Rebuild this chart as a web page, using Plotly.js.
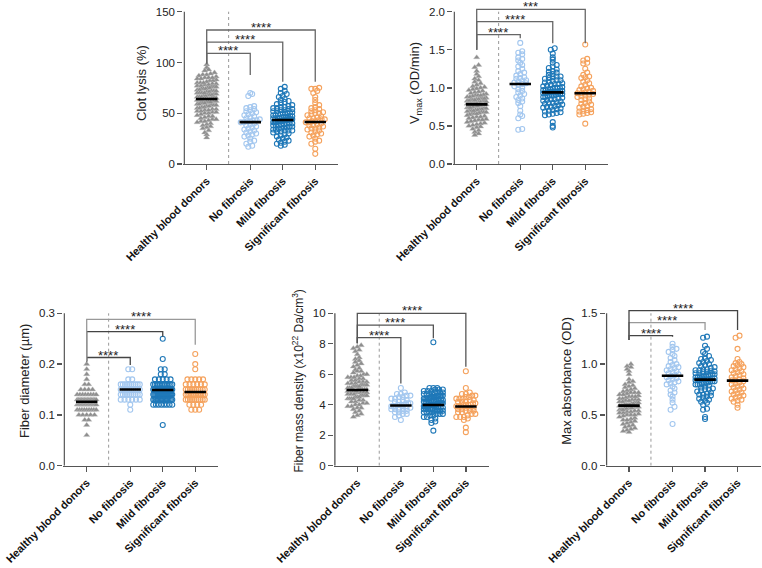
<!DOCTYPE html>
<html>
<head>
<meta charset="utf-8">
<script src="https://cdn.plot.ly/plotly-3.0.1.min.js"></script>
<style>html,body{margin:0;padding:0;background:#fff;}#chart{width:762px;height:568px;}</style>
</head>
<body>
<div id="chart"></div>
<script>
// ---------- categories ----------
const categories = ['Healthy blood donors', 'No fibrosis', 'Mild fibrosis', 'Significant fibrosis'];
const categoryPos = [0, 1.34, 2.34, 3.34];

// ---------- Clot lysis (%) ----------
const clotHealthy = [98,95,93,92,90,89,88,88,87,86,85,85,84,84,83,82,82,81,80,80,79,79,78,78,77,77,76,76,75,75,74,74,74,73,73,72,72,71,71,70,70,70,69,69,68,68,68,67,67,66,66,66,65,65,65,64,64,64,64,63,63,63,62,62,62,61,61,60,60,60,59,59,58,58,57,57,56,56,55,55,54,54,53,52,52,51,50,50,49,48,47,46,45,44,43,42,41,40,39,38,37,36,35,33,31,29,26,53,51,47,44,42,58,61,70,72,76,80,85];
const clotNo = [70,69,67,57,56,55,54,53,52,51,50,49,48,47,46,45,44,43,43,42,42,41,41,40,39,38,37,36,35,34,33,32,31,30,29,28,27,25,23,22,20,18,17];
const clotMild = [76,74,72,70,69,67,66,64,63,62,61,60,59,58,57,56,56,55,55,54,54,53,53,52,52,51,51,50,50,49,49,48,48,47,47,47,46,46,46,45,45,45,44,44,44,44,43,43,43,43,42,42,42,41,41,41,40,40,40,39,39,38,38,37,37,36,36,35,35,34,34,33,33,32,32,31,30,29,28,27,26,25,24,23,22,21,20,19,18,45,38,50,33,42];
const clotSig = [75,74,74,72,70,66,63,60,58,56,55,54,53,52,51,50,49,48,47,46,45,44,43,42,42,41,41,40,39,38,37,36,35,34,33,32,31,30,29,28,27,25,23,22,20,15,10,45,38,35,50,44];
const clotMedians = [64, 41.2, 43.3, 41.4];
const clotBracketLevels = [109, 120, 132];
const clotBracketEnds = [87.6, 81, 81];
const clotStars = ['****', '****', '****'];

// ---------- Vmax (OD/min) ----------
const vmaxHealthy = [1.40,1.30,1.27,1.22,1.18,1.15,1.12,1.10,1.08,1.06,1.04,1.02,1.01,1.00,0.99,0.98,0.97,0.96,0.95,0.94,0.93,0.92,0.91,0.90,0.90,0.89,0.88,0.88,0.87,0.86,0.86,0.85,0.85,0.84,0.84,0.83,0.83,0.82,0.82,0.81,0.81,0.80,0.80,0.80,0.79,0.79,0.79,0.78,0.78,0.78,0.77,0.77,0.76,0.76,0.75,0.75,0.74,0.74,0.73,0.73,0.72,0.72,0.71,0.71,0.70,0.70,0.69,0.68,0.68,0.67,0.66,0.66,0.65,0.64,0.63,0.62,0.61,0.60,0.59,0.58,0.57,0.56,0.55,0.54,0.53,0.52,0.51,0.50,0.49,0.48,0.46,0.44,0.42,0.40,0.38,0.62,0.66,0.70,0.74,0.78,0.82,0.86,0.90,0.58,0.68,0.76,0.84];
const vmaxNo = [1.59,1.48,1.46,1.44,1.40,1.38,1.36,1.33,1.30,1.28,1.25,1.22,1.20,1.18,1.16,1.14,1.13,1.12,1.10,1.09,1.08,1.07,1.06,1.05,1.04,1.02,1.00,0.98,0.96,0.94,0.92,0.90,0.88,0.86,0.84,0.82,0.80,0.76,0.70,0.65,0.63,0.60,0.46,0.45];
const vmaxMild = [1.52,1.50,1.45,1.40,1.37,1.33,1.30,1.28,1.26,1.24,1.22,1.21,1.20,1.18,1.17,1.15,1.14,1.13,1.12,1.10,1.09,1.08,1.07,1.06,1.05,1.04,1.03,1.02,1.01,1.00,1.00,0.99,0.98,0.98,0.97,0.97,0.96,0.96,0.95,0.95,0.95,0.94,0.94,0.93,0.93,0.92,0.92,0.91,0.90,0.90,0.89,0.88,0.88,0.87,0.86,0.85,0.84,0.83,0.82,0.81,0.80,0.79,0.78,0.77,0.76,0.75,0.74,0.73,0.72,0.71,0.70,0.69,0.68,0.67,0.66,0.65,0.64,0.55,0.50,0.48,0.85,0.95,1.00,1.10,0.80,0.90,1.05,0.75,1.15,0.92];
const vmaxSig = [1.57,1.38,1.36,1.33,1.32,1.25,1.20,1.17,1.15,1.14,1.13,1.10,1.08,1.06,1.04,1.02,1.00,0.99,0.98,0.97,0.96,0.95,0.94,0.93,0.93,0.92,0.91,0.90,0.89,0.88,0.86,0.85,0.84,0.82,0.80,0.79,0.78,0.76,0.75,0.74,0.72,0.71,0.70,0.69,0.68,0.67,0.66,0.65,0.53];
const vmaxMedians = [0.783, 1.05, 0.94, 0.93];
const vmaxBracketLevels = [1.70, 1.87, 2.03];
const vmaxBracketEnds = [1.65, 1.585, 1.585];
const vmaxStars = ['****', '****', '***'];

// ---------- Fiber diameter (µm) ----------
const diamHealthy = [0.20,0.19,0.18,0.17,0.16,0.16,0.15,0.15,0.15,0.15,0.14,0.14,0.14,0.14,0.14,0.14,0.14,0.14,0.13,0.13,0.13,0.13,0.13,0.13,0.13,0.13,0.13,0.13,0.13,0.13,0.13,0.13,0.12,0.12,0.12,0.12,0.12,0.12,0.12,0.12,0.12,0.12,0.12,0.12,0.12,0.12,0.11,0.11,0.11,0.11,0.11,0.11,0.11,0.11,0.11,0.10,0.10,0.10,0.10,0.10,0.09,0.09,0.08,0.06];
const diamNo = [0.19,0.19,0.17,0.17,0.16,0.16,0.16,0.16,0.16,0.16,0.16,0.16,0.16,0.16,0.15,0.15,0.15,0.15,0.15,0.15,0.15,0.15,0.15,0.15,0.14,0.14,0.14,0.14,0.14,0.14,0.14,0.14,0.14,0.14,0.13,0.13,0.13,0.13,0.13,0.13,0.12,0.11];
const diamMild = [0.25,0.21,0.19,0.19,0.18,0.18,0.17,0.17,0.17,0.17,0.17,0.16,0.16,0.16,0.16,0.16,0.16,0.16,0.16,0.16,0.16,0.16,0.16,0.15,0.15,0.15,0.15,0.15,0.15,0.15,0.15,0.15,0.15,0.15,0.15,0.15,0.15,0.15,0.15,0.15,0.15,0.15,0.15,0.14,0.14,0.14,0.14,0.14,0.14,0.14,0.14,0.14,0.14,0.14,0.14,0.14,0.14,0.14,0.14,0.14,0.14,0.14,0.14,0.13,0.13,0.13,0.13,0.13,0.13,0.13,0.13,0.13,0.13,0.13,0.13,0.13,0.13,0.13,0.13,0.12,0.12,0.12,0.12,0.12,0.12,0.12,0.12,0.08];
const diamSig = [0.22,0.20,0.19,0.17,0.17,0.17,0.17,0.17,0.16,0.16,0.16,0.16,0.16,0.16,0.15,0.15,0.15,0.15,0.15,0.15,0.15,0.15,0.15,0.15,0.14,0.14,0.14,0.14,0.14,0.14,0.14,0.14,0.14,0.14,0.14,0.14,0.13,0.13,0.13,0.13,0.13,0.13,0.13,0.13,0.13,0.13,0.12,0.12,0.12,0.12,0.11,0.11,0.11];
const diamMedians = [0.126, 0.150, 0.149, 0.145];
const diamBracketLevels = [0.213, 0.264, 0.288];
const diamBracketEnds = [0.198, 0.254, 0.238];
const diamStars = ['****', '****', '****'];

// ---------- Fiber mass density (x10^22 Da/cm^3) ----------
const densHealthy = [7.9,7.8,7.7,7.6,7.5,7.3,7.1,7.0,6.9,6.8,6.7,6.6,6.5,6.4,6.3,6.2,6.1,6.0,6.0,5.9,5.9,5.8,5.8,5.7,5.7,5.6,5.6,5.5,5.5,5.4,5.4,5.4,5.3,5.3,5.3,5.2,5.2,5.2,5.1,5.1,5.1,5.0,5.0,5.0,5.0,4.9,4.9,4.9,4.9,4.8,4.8,4.8,4.7,4.7,4.7,4.6,4.6,4.6,4.5,4.5,4.5,4.4,4.4,4.4,4.3,4.3,4.2,4.2,4.1,4.1,4.0,4.0,3.9,3.9,3.8,3.8,3.7,3.6,3.5,3.4,3.3,3.2,5.5,5.2,5.0,4.8,4.6,5.8,6.2,4.4,5.3,4.9];
const densNo = [5.1,4.8,4.7,4.7,4.6,4.6,4.5,4.5,4.4,4.4,4.3,4.3,4.2,4.2,4.1,4.1,4.1,4.0,4.0,4.0,4.0,3.9,3.9,3.9,3.8,3.8,3.8,3.7,3.7,3.7,3.6,3.6,3.5,3.5,3.4,3.4,3.3,3.2,3.0];
const densMild = [8.1,5.1,5.1,5.1,5.0,5.0,5.0,4.9,4.9,4.9,4.8,4.8,4.8,4.8,4.7,4.7,4.7,4.7,4.6,4.6,4.6,4.6,4.6,4.5,4.5,4.5,4.5,4.5,4.4,4.4,4.4,4.4,4.4,4.3,4.3,4.3,4.3,4.3,4.3,4.2,4.2,4.2,4.2,4.2,4.2,4.1,4.1,4.1,4.1,4.1,4.1,4.0,4.0,4.0,4.0,4.0,4.0,4.0,3.9,3.9,3.9,3.9,3.9,3.9,3.8,3.8,3.8,3.8,3.8,3.7,3.7,3.7,3.7,3.7,3.6,3.6,3.6,3.6,3.5,3.5,3.5,3.5,3.4,3.4,3.4,3.3,3.3,3.2,3.2,3.1,3.0,2.9,2.8,2.3];
const densSig = [6.2,5.1,4.8,4.7,4.7,4.6,4.6,4.5,4.5,4.4,4.4,4.3,4.3,4.2,4.2,4.1,4.1,4.0,4.0,4.0,3.9,3.9,3.9,3.8,3.8,3.7,3.7,3.6,3.6,3.5,3.5,3.4,3.3,3.2,3.2,3.1,3.0,2.5,2.2,4.0,3.8,4.2,3.6,4.4,3.4,3.2];
const densMedians = [4.97, 3.95, 3.98, 3.88];
const densBracketLevels = [8.4, 9.23, 10.0];
const densBracketEnds = [5.4, 8.36, 6.5];
const densStars = ['****', '****', '****'];

// ---------- Max absorbance (OD) ----------
const absHealthy = [1.00,0.98,0.97,0.95,0.93,0.90,0.85,0.83,0.82,0.80,0.79,0.78,0.77,0.76,0.75,0.74,0.73,0.72,0.72,0.71,0.70,0.70,0.69,0.68,0.68,0.67,0.66,0.66,0.65,0.65,0.64,0.64,0.63,0.63,0.62,0.62,0.61,0.61,0.60,0.60,0.60,0.59,0.59,0.59,0.58,0.58,0.58,0.57,0.57,0.56,0.56,0.55,0.55,0.54,0.54,0.53,0.53,0.52,0.52,0.51,0.50,0.50,0.49,0.48,0.47,0.46,0.45,0.44,0.43,0.42,0.41,0.40,0.39,0.38,0.37,0.36,0.35,0.34,0.33,0.55,0.60,0.65,0.50,0.62,0.58,0.68,0.45,0.72,0.57];
const absNo = [1.20,1.17,1.15,1.14,1.12,1.10,1.08,1.06,1.04,1.02,1.00,0.99,0.98,0.97,0.96,0.95,0.94,0.93,0.92,0.91,0.90,0.89,0.88,0.87,0.86,0.85,0.84,0.83,0.82,0.81,0.80,0.78,0.76,0.74,0.72,0.70,0.68,0.65,0.62,0.58,0.55,0.41];
const absMild = [1.27,1.26,1.18,1.15,1.12,1.10,1.08,1.06,1.05,1.04,1.03,1.02,1.01,1.00,0.99,0.98,0.97,0.96,0.95,0.94,0.94,0.93,0.93,0.92,0.92,0.91,0.91,0.90,0.90,0.89,0.89,0.88,0.88,0.87,0.87,0.86,0.86,0.85,0.85,0.85,0.84,0.84,0.83,0.83,0.82,0.82,0.81,0.81,0.80,0.80,0.79,0.78,0.77,0.76,0.75,0.74,0.73,0.72,0.71,0.70,0.69,0.68,0.67,0.66,0.65,0.64,0.63,0.62,0.60,0.56,0.55,0.48,0.46,0.90,0.80,0.85,0.75,0.95,0.70,0.88,0.83];
const absSig = [1.28,1.26,1.15,1.05,1.02,1.01,1.00,0.99,0.98,0.97,0.96,0.95,0.94,0.93,0.92,0.91,0.90,0.89,0.88,0.87,0.86,0.85,0.84,0.84,0.83,0.82,0.81,0.80,0.79,0.78,0.77,0.76,0.75,0.74,0.73,0.72,0.71,0.70,0.69,0.68,0.67,0.66,0.65,0.64,0.63,0.60,0.57];
const absMedians = [0.591, 0.886, 0.847, 0.837];
const absBracketLevels = [1.28, 1.408, 1.526];
const absBracketEnds = [1.27, 1.336, 1.336];
const absStars = ['****', '****', '****'];

// ---------- styles ----------
const groupMarkers = [
  {symbol: 'triangle-up', size: 5.5, color: '#8e8e8e', line: {color: '#c4c4c4', width: 0.4}},
  {symbol: 'circle-open', size: 5, color: '#a3c7ef', line: {width: 1.1}},
  {symbol: 'circle-open', size: 5, color: '#1f78b8', line: {width: 1.1}},
  {symbol: 'circle-open', size: 5, color: '#f5a25d', line: {width: 1.1}}
];
const FONT = 'Arial, "Liberation Sans", sans-serif';
const W = 762, H = 568;
const rows = [
  {plotTop: 2, zeroPx: 164, maxPx: 11.7},
  {plotTop: 296, zeroPx: 465.7, maxPx: 313.3}
];
const pxPerX = 32.5;
const xRange = [-0.72, 4.05];
const axisX0 = -0.69;
const dividerX = 0.675;

const panels = [
  {data: [clotHealthy, clotNo, clotMild, clotSig], med: clotMedians, title: 'Clot lysis (%)', ticks: [0, 50, 100, 150], fmt: 'd', ymax: 150, tick0px: 206.7, row: 0,
   levels: clotBracketLevels, ends: clotBracketEnds, leftEnd: 99, stars: clotStars, bcol: ['#666', '#666', '#666'], tsize: 13},
  {data: [vmaxHealthy, vmaxNo, vmaxMild, vmaxSig], med: vmaxMedians, title: 'V<sub>max</sub> (OD/min)', ticks: [0, 0.5, 1, 1.5, 2], fmt: '.1f', ymax: 2, tick0px: 476.7, row: 0,
   levels: vmaxBracketLevels, ends: vmaxBracketEnds, leftEnd: 1.5, stars: vmaxStars, bcol: ['#666', '#666', '#666'], tsize: 13},
  {data: [diamHealthy, diamNo, diamMild, diamSig], med: diamMedians, title: 'Fiber diameter (µm)', ticks: [0, 0.1, 0.2, 0.3], fmt: '.1f', ymax: 0.3, tick0px: 86.7, row: 1,
   levels: diamBracketLevels, ends: diamBracketEnds, leftEnd: 0.205, stars: diamStars, bcol: ['#444', '#444', '#999'], tsize: 13},
  {data: [densHealthy, densNo, densMild, densSig], med: densMedians, title: 'Fiber mass density (x10<sup>22</sup> Da/cm<sup>3</sup>)', ticks: [0, 2, 4, 6, 8, 10], fmt: 'd', ymax: 10, tick0px: 357.3, row: 1,
   levels: densBracketLevels, ends: densBracketEnds, leftEnd: 8.03, stars: densStars, bcol: ['#555', '#555', '#555'], tsize: 12},
  {data: [absHealthy, absNo, absMild, absSig], med: absMedians, title: 'Max absorbance (OD)', ticks: [0, 0.5, 1, 1.5], fmt: '.1f', ymax: 1.5, tick0px: 629, row: 1,
   levels: absBracketLevels, ends: absBracketEnds, leftEnd: 1.237, stars: absStars, bcol: ['#444', '#999', '#444'], tsize: 13}
];

// GraphPad-like scatter spreading: points falling in the same value row are set side by side
function spread(values, center, pxPerY) {
  const rowH = 3.6, step = 3.9, maxHalf = 9.5;
  const bins = {};
  values.forEach((v, i) => {
    const r = Math.round(v * pxPerY / rowH);
    (bins[r] = bins[r] || []).push(i);
  });
  const xs = new Array(values.length);
  Object.keys(bins).forEach(k => {
    const idx = bins[k].sort((a, b) => values[a] - values[b]);
    const n = idx.length;
    const sp = n > 1 ? Math.min(step, 2 * maxHalf / (n - 1)) : 0;
    idx.forEach((ii, j) => { xs[ii] = center + ((j - (n - 1) / 2) * sp) / pxPerX; });
  });
  return xs;
}

const traces = [];
const layout = {
  width: W, height: H, margin: {l: 0, r: 0, t: 0, b: 0}, autosize: false,
  paper_bgcolor: '#fff', plot_bgcolor: 'rgba(0,0,0,0)', showlegend: false,
  font: {family: FONT, color: '#222'},
  shapes: [], annotations: []
};

panels.forEach((p, pi) => {
  const n = pi + 1;
  const xa = n === 1 ? 'x' : 'x' + n;
  const ya = n === 1 ? 'y' : 'y' + n;
  const xKey = n === 1 ? 'xaxis' : 'xaxis' + n;
  const yKey = n === 1 ? 'yaxis' : 'yaxis' + n;
  const r = rows[p.row];
  const pxPerY = (r.zeroPx - r.maxPx) / p.ymax;
  const yTop = p.ymax * (r.zeroPx - r.plotTop) / (r.zeroPx - r.maxPx);
  const left = p.tick0px + xRange[0] * pxPerX;
  const right = p.tick0px + xRange[1] * pxPerX;

  layout[xKey] = {
    domain: [left / W, right / W], range: xRange, anchor: ya,
    showgrid: false, zeroline: false, showline: true, linecolor: '#555', linewidth: 1.3,
    ticks: 'outside', ticklen: 5, tickwidth: 1.3, tickcolor: '#555',
    tickvals: categoryPos, ticktext: categories, tickangle: -45,
    tickfont: {family: FONT, size: 11, color: '#111', weight: 'bold'}
  };
  layout[yKey] = {
    domain: [(H - r.zeroPx) / H, (H - r.plotTop) / H], range: [0, yTop], anchor: xa,
    showgrid: false, zeroline: false, showline: false,
    ticks: 'outside', ticklen: 5, tickwidth: 1.3, tickcolor: '#555',
    tickvals: p.ticks, tickformat: p.fmt,
    tickfont: {family: FONT, size: 11.5, color: '#222'},
    title: {text: p.title, font: {family: FONT, size: p.tsize, color: '#222'}, standoff: 6}
  };

  p.data.forEach((vals, g) => {
    traces.push({
      type: 'scatter', mode: 'markers', xaxis: xa, yaxis: ya, hoverinfo: 'skip',
      x: spread(vals, categoryPos[g], pxPerY), y: vals,
      marker: groupMarkers[g], cliponaxis: false
    });
  });
  p.med.forEach((m, g) => {
    traces.push({
      type: 'scatter', mode: 'lines', xaxis: xa, yaxis: ya, hoverinfo: 'skip',
      x: [categoryPos[g] - 0.33, categoryPos[g] + 0.33], y: [m, m],
      line: {color: '#000', width: 2.6}
    });
  });

  layout.shapes.push({type: 'line', xref: xa, yref: ya, x0: axisX0, x1: axisX0, y0: 0, y1: p.ymax,
    line: {color: '#555', width: 1.3}});
  layout.shapes.push({type: 'line', xref: xa, yref: ya, x0: dividerX, x1: dividerX, y0: 0, y1: p.ymax,
    line: {color: '#9a9a9a', width: 1, dash: 'dot'}});
  p.levels.forEach((lv, k) => {
    const x0 = categoryPos[0], x1 = categoryPos[k + 1];
    layout.shapes.push({type: 'path', xref: xa, yref: ya,
      path: `M ${x0},${p.leftEnd} L ${x0},${lv} L ${x1},${lv} L ${x1},${p.ends[k]}`,
      line: {color: p.bcol[k], width: 1.3}});
    layout.annotations.push({xref: xa, yref: ya, x: (x0 + x1) / 2, y: lv, text: p.stars[k],
      showarrow: false, xanchor: 'center', yanchor: 'bottom', yshift: -7,
      font: {family: FONT, size: 13, color: '#222'}});
  });
});

Plotly.newPlot('chart', traces, layout, {staticPlot: true, displayModeBar: false});
</script>
</body>
</html>
